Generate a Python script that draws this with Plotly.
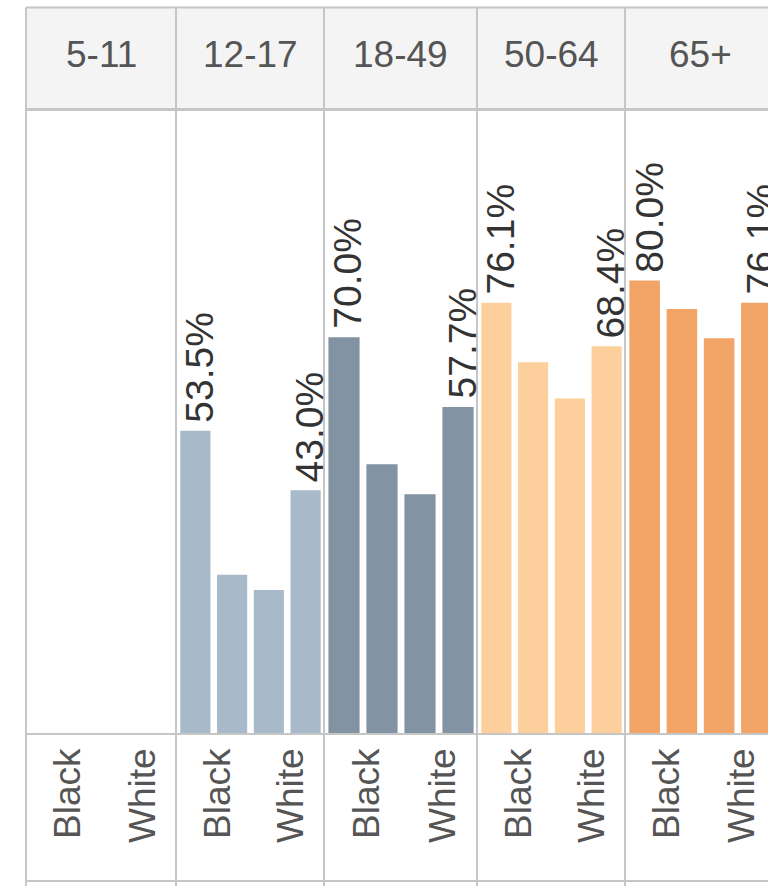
import plotly.graph_objects as go

# ---------------- data ----------------
age_groups = ["5-11", "12-17", "18-49", "50-64", "65+"]
race_groups = ["Black", "White"]
black_first = [None, 53.5, 70.0, 76.1, 80.0]
black_second = [None, 28.1, 47.6, 65.6, 75.0]
white_first = [None, 25.4, 42.3, 59.2, 69.8]
white_second = [None, 43.0, 57.7, 68.4, 76.1]
panel_colors = ["#a8bac9", "#a8bac9", "#8293a3", "#fccf9c", "#f2a366"]

# ---------------- layout helpers ----------------
W, H = 768, 886
FONT = "Liberation Sans, Arial, sans-serif"
borders = [26, 176, 324, 477, 625, 775]   # panel border pixel positions
top_px, header_bot_px, base_px, bottom_px = 7.5, 109.5, 734, 881
line_col = "#c6c6c6"


def px_x(p):
    return p / W


def px_y(p):
    return 1 - p / H


fig = go.Figure()
layout_axes = {}
annotations = []
for i, age in enumerate(age_groups):
    ax = "x" if i == 0 else f"x{i + 1}"
    vals = [black_first[i], black_second[i], white_first[i], white_second[i]]
    fig.add_trace(go.Bar(
        x=[0, 1, 2, 3], y=vals, width=0.82,
        marker=dict(color=panel_colors[i], line=dict(width=0)),
        xaxis=ax, yaxis="y", showlegend=False, hoverinfo="x+y",
    ))
    left, right = borders[i] + 1, borders[i + 1]
    vis_right = min(right, W)
    slots = 4 * (vis_right - left) / (right - left)
    layout_axes["xaxis" if i == 0 else f"xaxis{i + 1}"] = dict(
        domain=[px_x(left), min(1.0, px_x(vis_right))],
        range=[-0.5, -0.5 + slots],
        anchor="y",
        tickmode="array", tickvals=[0.5, 2.5], ticktext=race_groups,
        tickangle=-90, ticks="", showline=False, showgrid=False, zeroline=False,
        tickfont=dict(family=FONT, size=37, color="#555555"),
        ticklabelstandoff=6, ticklabelshift=4,
        fixedrange=True,
    )
    # header text
    annotations.append(dict(
        x=px_x((borders[i] + borders[i + 1]) / 2), y=px_y(55),
        xref="paper", yref="paper", text=age, showarrow=False,
        font=dict(family=FONT, size=37, color="#555555"),
        xanchor="center", yanchor="middle",
    ))
    # value labels on first (Black) and last (White) bar
    for xi, v in ((0, black_first[i]), (3, white_second[i])):
        if v is not None:
            annotations.append(dict(
                x=xi, y=v, xref=ax, yref="y", text=f"{v:.1f}%",
                showarrow=False, textangle=-90, xanchor="center", yanchor="bottom",
                xshift=4, yshift=6,
                font=dict(family=FONT, size=39, color="#333333"),
            ))

shapes = []
# header background
shapes.append(dict(type="rect", xref="paper", yref="paper",
                   x0=px_x(borders[0]), x1=1, y0=px_y(header_bot_px), y1=px_y(top_px),
                   fillcolor="#f4f4f4", line=dict(width=0), layer="below"))
# horizontal rules
for yp, wdt in ((top_px, 2), (header_bot_px, 3), (base_px, 2), (bottom_px, 2)):
    shapes.append(dict(type="line", xref="paper", yref="paper",
                       x0=px_x(borders[0]), x1=1, y0=px_y(yp), y1=px_y(yp),
                       line=dict(color=line_col, width=wdt)))
# vertical panel borders
for b in borders[:-1]:
    shapes.append(dict(type="line", xref="paper", yref="paper",
                       x0=px_x(b), x1=px_x(b), y0=0, y1=px_y(top_px),
                       line=dict(color=line_col, width=2)))

fig.update_layout(
    width=W, height=H,
    margin=dict(l=0, r=0, t=0, b=0),
    paper_bgcolor="white", plot_bgcolor="rgba(0,0,0,0)",
    yaxis=dict(domain=[px_y(base_px), px_y(header_bot_px + 1)], range=[0, 110],
               showgrid=False, zeroline=False, showticklabels=False, showline=False,
               fixedrange=True, anchor="x"),
    shapes=shapes, annotations=annotations,
    bargap=0.18,
    **layout_axes,
)

fig.write_html("out.html", config={"displayModeBar": False},
               post_script="document.body.style.margin='0';")
